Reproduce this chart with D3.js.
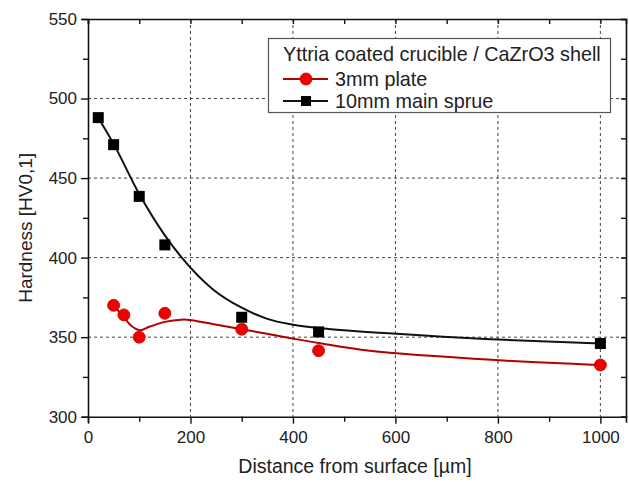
<!DOCTYPE html>
<html><head><meta charset="utf-8">
<script src="https://cdn.jsdelivr.net/npm/d3@7"></script>
<style>
html,body{margin:0;padding:0;background:#fff;}
svg text{font-family:"Liberation Sans",Arial,sans-serif;fill:#222;}
</style></head>
<body><svg id="chart" width="629" height="482"></svg>
<script>
// ---- data ----
const plateX = [50, 70, 100, 150, 300, 450, 1000];
const plateY = [370, 364, 350, 365, 355, 341.5, 332.5];
const sprueX = [20, 50, 100, 150, 300, 450, 1000];
const sprueY = [488, 471, 438.5, 408, 362.5, 353.3, 346];
// fitted curves
const plateFitX = [50, 70, 85, 101, 120, 150, 182, 202, 248, 300, 388, 450, 550, 800, 1000];
const plateFitY = [370, 362.5, 357, 354.4, 356.5, 359.6, 361, 360.7, 358, 355, 349.8, 346.3, 341.4, 335.5, 332.5];
const sprueFitX = [20, 50, 100, 150, 183, 244, 300, 350, 400, 480, 570, 800, 1000];
const sprueFitY = [488, 471.5, 440, 414, 400, 380, 368.5, 361.5, 357.8, 354.8, 352.8, 348.5, 346];
const xTicks = [0, 200, 400, 600, 800, 1000];
const yTicks = [300, 350, 400, 450, 500, 550];
const legendTitle = "Yttria coated crucible / CaZrO3 shell";
const seriesNames = ["3mm plate", "10mm main sprue"];
const xTitle = "Distance from surface [µm]";
const yTitle = "Hardness [HV0,1]";

const svg = d3.select("#chart");
const x = d3.scaleLinear().domain([0, 1050]).range([88, 626]);
const y = d3.scaleLinear().domain([300, 550]).range([416.7, 19]);
const L = x.range()[0], R = x.range()[1], T = y.range()[1], B = y.range()[0];

// grid
const grid = svg.append("g").attr("stroke", "#444").attr("stroke-width", 1).attr("stroke-dasharray", "3,3");
xTicks.filter(d => d > 0).forEach(d => grid.append("line").attr("x1", x(d)).attr("x2", x(d)).attr("y1", T).attr("y2", B));
yTicks.filter(d => d > 300 && d < 550).forEach(d => grid.append("line").attr("x1", L).attr("x2", R).attr("y1", y(d)).attr("y2", y(d)));

// axes
const fs = "17px";
const axB = svg.append("g").attr("transform", `translate(0,${B})`)
  .call(d3.axisBottom(x).tickValues(d3.range(0, 1001, 100)).tickSize(6).tickFormat(d => xTicks.includes(d) ? d : "").tickPadding(6));
const axL = svg.append("g").attr("transform", `translate(${L},0)`)
  .call(d3.axisLeft(y).tickValues(d3.range(300, 551, 25)).tickSize(6).tickFormat(d => yTicks.includes(d) ? d : "").tickPadding(5));
const axT = svg.append("g").attr("transform", `translate(0,${T})`)
  .call(d3.axisTop(x).tickValues(d3.range(0, 1001, 100)).tickSize(-5).tickFormat(""));
const axR = svg.append("g").attr("transform", `translate(${R},0)`)
  .call(d3.axisRight(y).tickValues(d3.range(300, 551, 25)).tickSize(-5).tickFormat(""));
[axB, axL, axT, axR].forEach(g => {
  g.select(".domain").attr("stroke", "#111").attr("stroke-width", 1.6);
  g.selectAll(".tick line").attr("stroke", "#111").attr("stroke-width", 1.4);
  g.selectAll("text").style("font-size", fs).attr("fill", "#222");
});
axB.selectAll(".tick line").attr("y2", d => xTicks.includes(d) ? 7 : 5);
axL.selectAll(".tick line").attr("x2", d => yTicks.includes(d) ? -7 : -5);
axB.selectAll("text").attr("dy", "0.85em");

// titles
svg.append("text").attr("x", (L + R) / 2 - 2).attr("y", 473).attr("text-anchor", "middle")
  .style("font-size", "19.5px").text(xTitle);
svg.append("text").attr("transform", `translate(32,${(T + B) / 2 + 10}) rotate(-90)`).attr("text-anchor", "middle")
  .style("font-size", "19px").text(yTitle);

// curves
const line = d3.line().x(d => x(d[0])).y(d => y(d[1]));
svg.append("path").datum(sprueFitX.map((d, i) => [d, sprueFitY[i]])).attr("d", line.curve(d3.curveMonotoneX))
  .attr("fill", "none").attr("stroke", "#111").attr("stroke-width", 2);
svg.append("path").datum(plateFitX.map((d, i) => [d, plateFitY[i]])).attr("d", line.curve(d3.curveCatmullRom.alpha(0.5)))
  .attr("fill", "none").attr("stroke", "#b00000").attr("stroke-width", 2);

// markers
const sq = 11;
svg.append("g").selectAll("rect").data(sprueX.map((d, i) => [d, sprueY[i]])).join("rect")
  .attr("x", d => x(d[0]) - sq / 2).attr("y", d => y(d[1]) - sq / 2).attr("width", sq).attr("height", sq)
  .attr("fill", "#000");
svg.append("g").selectAll("circle").data(plateX.map((d, i) => [d, plateY[i]])).join("circle")
  .attr("cx", d => x(d[0])).attr("cy", d => y(d[1])).attr("r", 6)
  .attr("fill", "#f00000").attr("stroke", "#c00000").attr("stroke-width", 0.8);

// legend
const lg = svg.append("g");
lg.append("rect").attr("x", 268.5).attr("y", 38.5).attr("width", 342).attr("height", 74)
  .attr("fill", "#fff").attr("stroke", "#555").attr("stroke-width", 1.2);
lg.append("text").attr("x", 283).attr("y", 61).style("font-size", "19.8px").text(legendTitle);
const rows = [
  {name: seriesNames[0], y: 86, color: "#b00000", mark: "circle"},
  {name: seriesNames[1], y: 108, color: "#111", mark: "rect"}
];
rows.forEach(r => {
  lg.append("line").attr("x1", 283).attr("x2", 328).attr("y1", r.y - 7).attr("y2", r.y - 7)
    .attr("stroke", r.color).attr("stroke-width", 2);
  if (r.mark === "circle") {
    lg.append("circle").attr("cx", 306).attr("cy", r.y - 7).attr("r", 6).attr("fill", "#f00000").attr("stroke", "#c00000").attr("stroke-width", 0.8);
  } else {
    lg.append("rect").attr("x", 306 - 5).attr("y", r.y - 12).attr("width", 10).attr("height", 10).attr("fill", "#000");
  }
  lg.append("text").attr("x", 335).attr("y", r.y).style("font-size", "19.8px").text(r.name);
});
</script></body></html>
